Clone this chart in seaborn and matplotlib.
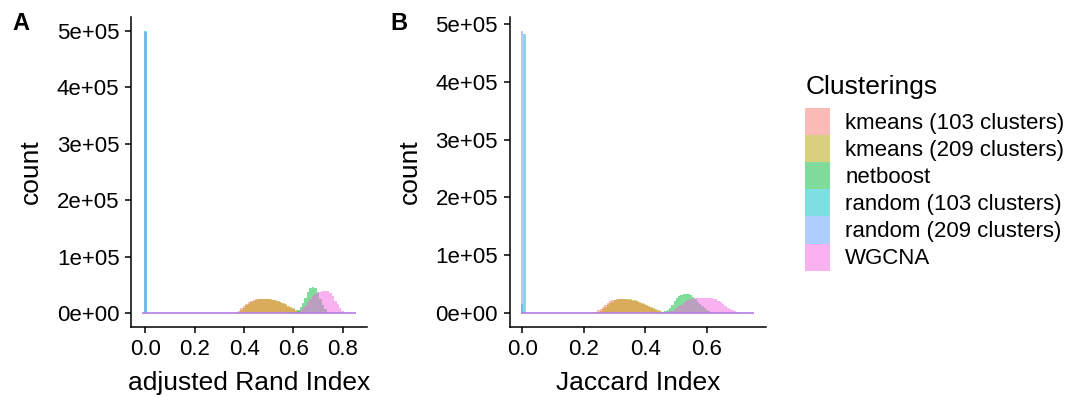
import numpy as np
import pandas as pd
import matplotlib
matplotlib.use("Agg")
import matplotlib.pyplot as plt
import seaborn as sns
from matplotlib.patches import Patch

# ---------------- data ----------------
clusterings = ["kmeans (103 clusters)", "kmeans (209 clusters)", "netboost",
               "random (103 clusters)", "random (209 clusters)", "WGCNA"]
colors = ["#F8766D", "#B79F00", "#00BA38", "#00BFC4", "#619CFF", "#F564E3"]

# Panel A: adjusted Rand Index (bin width 0.01); first bin centre per series
ari_bin_width = 0.01
ari_range = (-0.015, 0.855)
ari_first = [0.36, 0.37, 0.57, 0.00, 0.00, 0.59]
ari_kmeans103 = [500, 1500, 4000, 8000, 12500, 16000, 18800, 21000, 22600, 23800,
                 24600, 25000, 25100, 24900, 24300, 23500, 22300, 20800, 19000, 17200,
                 15200, 13200, 11000, 8700, 6200, 3800, 1800, 600, 150]
ari_kmeans209 = [300, 1500, 4500, 9000, 13500, 16500, 19000, 21000, 22500, 23800,
                 24600, 25000, 25200, 25000, 24400, 23500, 22200, 20500, 18800, 17000,
                 15000, 13000, 11000, 8500, 6000, 3500, 1500, 500]
ari_netboost = [300, 600, 1000, 1500, 2500, 5000, 10000, 17000, 27000, 37000,
                44000, 46500, 44000, 36000, 25000, 14000, 6500, 2500, 800, 200]
ari_random103 = [500000]
ari_random209 = [499000]
ari_wgcna = [300, 800, 1500, 2500, 4500, 8000, 13000, 19000, 25000, 30000,
             34000, 36500, 37500, 38000, 38500, 38000, 35500, 30000, 22000, 15000,
             8000, 3500, 1500, 500, 200, 80, 20]

# Panel B: Jaccard Index (bin width 0.0075); first bin centre per series
jac_bin_width = 0.0075
jac_range = (-0.00375, 0.75375)
jac_first = [0.2250, 0.2325, 0.4425, 0.0000, 0.0000, 0.4500]
jac_kmeans103 = [400, 1100, 2300, 4300, 7500, 11000, 14500, 17500, 20000, 21800,
                 23000, 23800, 24200, 24300, 24200, 23800, 23200, 22300, 21100, 19800,
                 18400, 16900, 15300, 13600, 11800, 10000, 8200, 6400, 4700, 3100,
                 1700, 700, 250]
jac_kmeans209 = [300, 800, 1800, 3500, 6500, 10000, 13500, 16800, 19500, 21500,
                 23000, 23800, 24300, 24500, 24500, 24200, 23600, 22700, 21500, 20200,
                 18800, 17300, 15700, 14000, 12200, 10500, 8700, 6800, 5000, 3300,
                 1800, 800, 300]
jac_netboost = [500, 1200, 2000, 3000, 5000, 9000, 14500, 20000, 25000, 28800,
                31300, 32800, 33200, 32500, 30500, 27500, 23500, 19500, 15300, 11500,
                8000, 5200, 3000, 1500, 600, 200]
jac_random103 = [15000, 483000]
jac_random209 = [488000, 1500]
jac_wgcna = [200, 500, 900, 1500, 2500, 4000, 6000, 8500, 11500, 14500,
             17500, 20000, 22000, 23500, 24500, 25200, 25700, 26000, 26200, 26300,
             26200, 26000, 25600, 24800, 23300, 21000, 18200, 15200, 12200, 9300,
             6700, 4500, 2800, 1600, 800, 350, 150, 60, 25, 10, 3]

ytick_values = [0, 100000, 200000, 300000, 400000, 500000]
ytick_labels = ["0e+00", "1e+05", "2e+05", "3e+05", "4e+05", "5e+05"]
ari_xticks = [0.0, 0.2, 0.4, 0.6, 0.8]
jac_xticks = [0.0, 0.2, 0.4, 0.6]

# ---------------- build long table ----------------
def build(panel, first, series, width):
    rows = []
    for name, start, counts in zip(clusterings, first, series):
        for i, c in enumerate(counts):
            rows.append({"panel": panel, "Clusterings": name,
                         "value": start + i * width, "count": c})
    return rows

rows = build("A", ari_first, [ari_kmeans103, ari_kmeans209, ari_netboost,
                              ari_random103, ari_random209, ari_wgcna], ari_bin_width)
rows += build("B", jac_first, [jac_kmeans103, jac_kmeans209, jac_netboost,
                               jac_random103, jac_random209, jac_wgcna], jac_bin_width)
df = pd.DataFrame(rows)

# ---------------- style ----------------
sns.set_style("ticks")
plt.rcParams["font.family"] = ["Liberation Sans", "DejaVu Sans"]
plt.rcParams["axes.linewidth"] = 1.1
plt.rcParams["xtick.major.width"] = 1.1
plt.rcParams["ytick.major.width"] = 1.1
plt.rcParams["xtick.major.size"] = 4.3
plt.rcParams["ytick.major.size"] = 4.3
for k in ["xtick.color", "ytick.color", "xtick.labelcolor", "ytick.labelcolor",
          "text.color", "axes.labelcolor", "axes.edgecolor"]:
    plt.rcParams[k] = "black"

fig = plt.figure(figsize=(10.72, 3.97), dpi=100)
W, H = 1072, 397
axA = fig.add_axes([131 / W, 1 - 327 / H, (367 - 131) / W, 310 / H])
axB = fig.add_axes([509.5 / W, 1 - 327 / H, (766 - 509.5) / W, 310 / H])

panels = [("A", axA, ari_range, ari_bin_width, ari_xticks, "adjusted Rand Index"),
          ("B", axB, jac_range, jac_bin_width, jac_xticks, "Jaccard Index")]

for label, ax, (lo, hi), width, xticks, xlabel in panels:
    sub_panel = df[df["panel"] == label]
    for name, col in zip(clusterings, colors):
        sub = sub_panel[sub_panel["Clusterings"] == name]
        sns.histplot(data=sub, x="value", weights="count", binwidth=width,
                     binrange=(lo, hi), color=col, alpha=0.5, linewidth=0, ax=ax)
    ax.plot([lo, hi], [0, 0], color="#b27fe3", lw=1.2, zorder=5,
            solid_capstyle="butt")
    r = hi - lo
    ax.set_xlim(lo - 0.05 * r, hi + 0.05 * r)
    ymax = sub_panel["count"].max()
    ax.set_ylim(-0.05 * ymax, 1.05 * ymax)
    ax.set_xticks(xticks, [f"{t:.1f}" for t in xticks])
    ax.set_yticks(ytick_values, ytick_labels)
    ax.tick_params(labelsize=16, pad=4, colors="black")
    ax.set_xlabel(xlabel, fontsize=19, labelpad=8, color="black")
    ax.set_ylabel("count", fontsize=19, labelpad=10, color="black")
    for s in ["top", "right"]:
        ax.spines[s].set_visible(False)
    for s in ["left", "bottom"]:
        ax.spines[s].set_color("black")

fig.text(12 / W, 1 - 24 / H, "A", fontsize=17, fontweight="bold", va="center",
         ha="left", color="black")
fig.text(390 / W, 1 - 24 / H, "B", fontsize=17, fontweight="bold", va="center",
         ha="left", color="black")

fig.text(806 / W, 1 - 87 / H, "Clusterings", fontsize=19, va="center", ha="left",
         color="black")
handles = [Patch(facecolor=c, alpha=0.5, edgecolor="none") for c in colors]
fig.legend(handles, clusterings, loc="upper left",
           bbox_to_anchor=(805 / W, 1 - 108 / H), frameon=False, fontsize=16,
           handlelength=1.13, handleheight=1.5,
           labelspacing=0.0, handletextpad=0.68, borderpad=0, borderaxespad=0)

fig.savefig("out.png", dpi=100)
